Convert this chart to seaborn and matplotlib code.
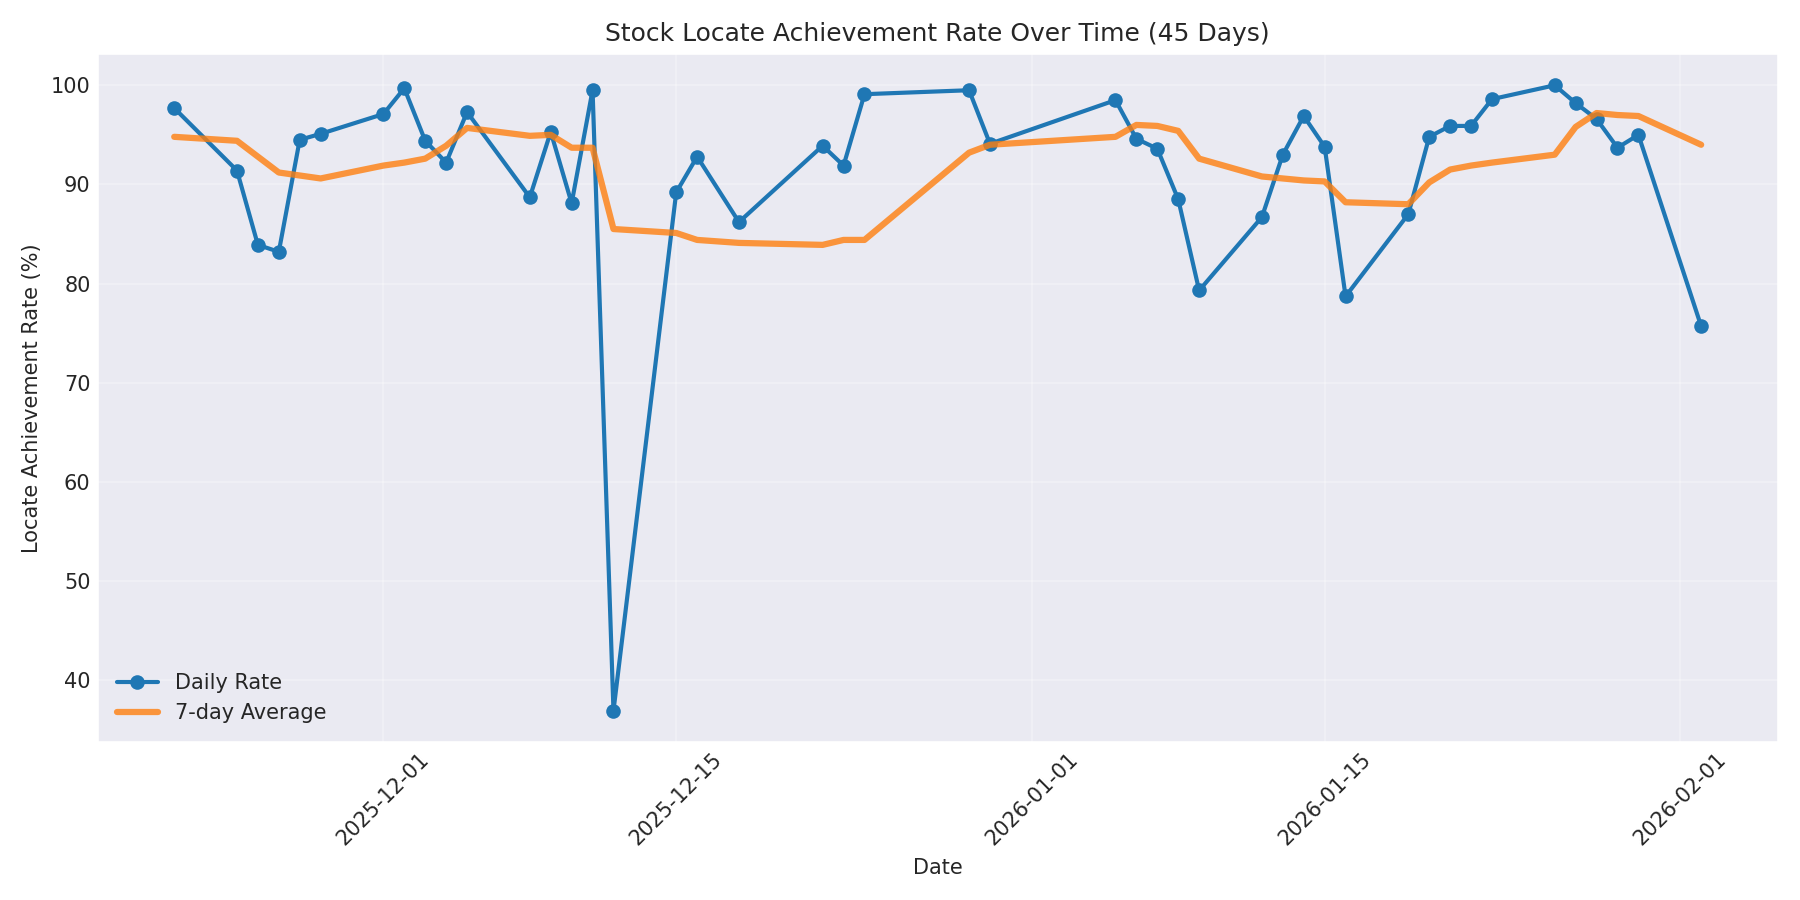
import matplotlib
matplotlib.use("Agg")
import matplotlib.pyplot as plt
import pandas as pd
import seaborn as sns

# dates of trading days shown in the chart
dates = [
    "2025-11-21", "2025-11-24", "2025-11-25", "2025-11-26", "2025-11-27", "2025-11-28",
    "2025-12-01", "2025-12-02", "2025-12-03", "2025-12-04", "2025-12-05",
    "2025-12-08", "2025-12-09", "2025-12-10", "2025-12-11", "2025-12-12",
    "2025-12-15", "2025-12-16", "2025-12-18",
    "2025-12-22", "2025-12-23", "2025-12-24",
    "2025-12-29", "2025-12-30",
    "2026-01-05", "2026-01-06", "2026-01-07", "2026-01-08", "2026-01-09",
    "2026-01-12", "2026-01-13", "2026-01-14", "2026-01-15", "2026-01-16",
    "2026-01-19", "2026-01-20", "2026-01-21", "2026-01-22", "2026-01-23",
    "2026-01-26", "2026-01-27", "2026-01-28", "2026-01-29", "2026-01-30",
    "2026-02-02",
]

daily_rate = [
    97.7, 91.4, 83.9, 83.2, 94.5, 95.1,
    97.1, 99.7, 94.4, 92.2, 97.3,
    88.7, 95.3, 88.1, 99.5, 36.9,
    89.2, 92.8, 86.2,
    93.9, 91.9, 99.1,
    99.5, 94.1,
    98.5, 94.6, 93.6, 88.5, 79.3,
    86.7, 93.0, 96.9, 93.8, 78.7,
    87.0, 94.8, 95.9, 95.9, 98.6,
    100.0, 98.2, 96.6, 93.7, 95.0,
    75.7,
]

avg_7d = [
    94.8, 94.4, 92.8, 91.2, 90.9, 90.6,
    91.9, 92.2, 92.6, 93.9, 95.7,
    94.9, 95.0, 93.7, 93.7, 85.5,
    85.1, 84.4, 84.1,
    83.9, 84.4, 84.4,
    93.2, 94.0,
    94.8, 96.0, 95.9, 95.4, 92.6,
    90.8, 90.6, 90.4, 90.3, 88.2,
    88.0, 90.2, 91.5, 91.9, 92.2,
    93.0, 95.8, 97.2, 97.0, 96.9,
    94.0,
]

df = pd.DataFrame({
    "date": pd.to_datetime(dates),
    "rate": daily_rate,
    "avg": avg_7d,
})

sns.set_style("darkgrid")
plt.rcParams["font.family"] = ["DejaVu Sans"]
# no tick marks, round line ends (like the old seaborn darkgrid mpl style)
plt.rcParams["xtick.major.size"] = 0
plt.rcParams["ytick.major.size"] = 0
plt.rcParams["lines.solid_capstyle"] = "round"

fig, ax = plt.subplots(figsize=(12, 6), dpi=150)

sns.lineplot(data=df, x="date", y="rate", ax=ax, color="#1f77b4",
             marker="o", markersize=7, markeredgewidth=0, linewidth=2,
             label="Daily Rate")
sns.lineplot(data=df, x="date", y="avg", ax=ax, color="#ff7f0e",
             linewidth=3, alpha=0.8, label="7-day Average")

ax.set_title("Stock Locate Achievement Rate Over Time (45 Days)", fontsize=12)
ax.set_xlabel("Date", fontsize=10)
ax.set_ylabel("Locate Achievement Rate (%)", fontsize=10)
ax.tick_params(labelsize=10)
ax.grid(True, alpha=0.3)
plt.xticks(rotation=45)
ax.legend(loc="lower left", frameon=False, fontsize=10)

plt.tight_layout()
plt.savefig("out.png", dpi=150)
